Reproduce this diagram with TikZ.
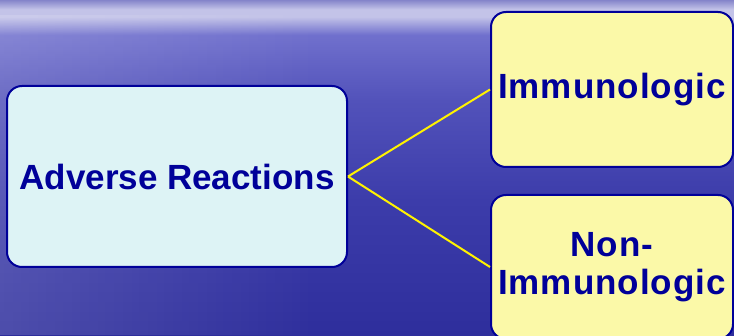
\documentclass[tikz,border=0pt]{standalone}
\usepackage{fontspec}
\setmainfont{Liberation Sans}
\usetikzlibrary{positioning, fadings}
\definecolor{navy}{RGB}{0,0,153}
\definecolor{palecyan}{RGB}{221,243,245}
\definecolor{paleyellow}{RGB}{251,249,168}
\definecolor{seasky}{RGB}{132,132,202}
\definecolor{seahorizon}{RGB}{195,195,232}
\definecolor{seanear}{RGB}{112,112,205}
\definecolor{seaupper}{RGB}{82,82,186}
\definecolor{seamid}{RGB}{60,60,170}
\definecolor{seabot}{RGB}{46,46,156}
\pgfdeclareverticalshading{sea}{100bp}{color(0bp)=(seabot); color(25bp)=(seabot);
  color(45bp)=(seamid); color(60bp)=(seaupper); color(69.8bp)=(seanear);
  color(72.5bp)=(seahorizon); color(73.6bp)=(seahorizon); color(75bp)=(seasky);
  color(100bp)=(seasky)}
\tikzset{x=1pt, y=1pt,
every box/.style={draw=navy, line width=2pt, rounded corners=15pt, text=navy,
  font=\fontsize{35}{38}\selectfont\bfseries, align=center, inner sep=0pt},
cause/.style={every box, fill=palecyan, minimum width=340pt, minimum height=181pt},
kind/.style={every box, fill=paleyellow, minimum width=242pt,
  font=\fontsize{35}{38}\selectfont\bfseries\addfontfeatures{LetterSpace=2.8}},
link/.style={draw=yellow, line width=2pt},
}

\begin{document}
\begin{tikzpicture}
    \useasboundingbox (0,0) rectangle (734,335);
    \shade[shading=sea] (0,0) rectangle (734,335);
    \fill[white, opacity=.15, path fading=east] (0,0) rectangle (320,320);
    \node[cause] (adv) at (177,158.5) {Adverse Reactions};
    \node[kind, minimum height=155pt] (imm) at (612,245.5) {Immunologic};
    \node[kind, minimum height=144pt] (nonimm) at (612,68) {Non-\\Immunologic};
    \draw[link] (adv.east) -- (imm.west)
    (adv.east) -- (nonimm.west);
\end{tikzpicture}
\end{document}
